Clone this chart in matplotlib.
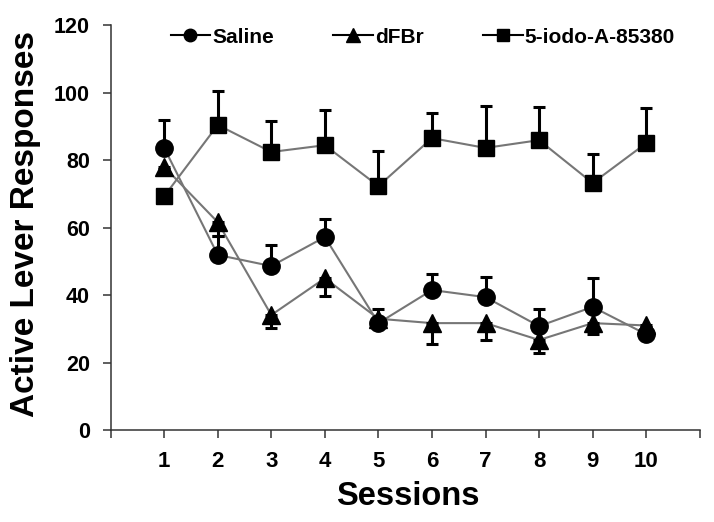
import matplotlib
matplotlib.use("Agg")
import matplotlib.pyplot as plt
from matplotlib.lines import Line2D

sessions = [1, 2, 3, 4, 5, 6, 7, 8, 9, 10]
saline = [83.6, 51.9, 48.6, 57.2, 31.7, 41.5, 39.4, 30.8, 36.5, 28.4]
saline_err = [8.3, 5.6, 6.2, 5.3, 4.3, 4.7, 5.9, 5.0, 8.5, 0.5]
dfbr = [78.0, 61.6, 34.1, 45.0, 33.0, 31.7, 31.7, 26.7, 31.7, 31.0]
dfbr_err = [0.5, 4.0, 3.9, 5.3, 0.5, 6.2, 5.0, 3.9, 3.3, 0.5]
iodo = [69.3, 90.4, 82.4, 84.4, 72.3, 86.5, 83.6, 85.9, 73.2, 85.0]
iodo_err = [0.5, 10.0, 9.1, 10.4, 10.4, 7.5, 12.4, 9.8, 8.6, 10.4]
labels = ["Saline", "dFBr", "5-iodo-A-85380"]
xtick_labels = ["1", "2", "3", "4", "5", "6", "7", "8", "9", "10"]

plt.rcParams["font.family"] = ["Liberation Sans", "DejaVu Sans"]
plt.rcParams["font.weight"] = "bold"

fig = plt.figure(figsize=(7.14, 5.22), dpi=100)
ax = fig.add_axes([0.155, 0.176, 0.825, 0.776])

zeros = [0] * len(sessions)
err_kw = dict(fmt="none", ecolor="black", elinewidth=2.2, capsize=4, capthick=2.2, zorder=3)
ax.errorbar(sessions, saline, yerr=[zeros, saline_err], **err_kw)
ax.errorbar(sessions, dfbr, yerr=[dfbr_err, zeros], **err_kw)
ax.errorbar(sessions, iodo, yerr=[zeros, iodo_err], **err_kw)

line_kw = dict(color="#767676", lw=1.5, zorder=2)
ax.plot(sessions, saline, **line_kw)
ax.plot(sessions, dfbr, **line_kw)
ax.plot(sessions, iodo, **line_kw)
ax.plot(sessions, saline, "o", color="black", ms=12.5, zorder=4)
ax.plot(sessions, dfbr, "^", color="black", ms=12.5, zorder=4)
ax.plot(sessions, iodo, "s", color="black", ms=11.5, zorder=4)

handles = [Line2D([], [], color="black", lw=1.5, marker=m, ms=ms)
           for m, ms in [("o", 9), ("^", 9.5), ("s", 8.5)]]
ax.legend(handles, labels, loc="center", bbox_to_anchor=(0.53, 0.970), ncol=3,
          frameon=False, handlelength=1.9, handletextpad=0.1,
          columnspacing=2.85, prop={"weight": "bold", "size": 15},
          borderaxespad=0, borderpad=0)

ax.set_xlim(0, 11)
ax.set_ylim(0, 120)
ax.set_xticks(range(0, 12))
ax.set_xticklabels([""] + xtick_labels + [""])
ax.set_yticks(range(0, 121, 20))
ax.tick_params(axis="both", width=1.1, length=6, direction="out", colors="#333333",
               labelcolor="black")
ax.tick_params(axis="x", labelsize=16, pad=9)
ax.tick_params(axis="y", labelsize=15.5, pad=9)
for lab in ax.get_xticklabels() + ax.get_yticklabels():
    lab.set_fontweight("bold")
ax.spines["top"].set_visible(False)
ax.spines["right"].set_visible(False)
for s in ("left", "bottom"):
    ax.spines[s].set_linewidth(1.1)
    ax.spines[s].set_color("#333333")

ax.set_xlabel("Sessions", fontsize=23.5, fontweight="bold", va="center")
ax.xaxis.set_label_coords(0.504, -0.165)
ax.set_ylabel("Active Lever Responses", fontsize=24, fontweight="bold", va="center")
ax.yaxis.set_label_coords(-0.144, 0.51)

fig.savefig("out.png", dpi=100)
